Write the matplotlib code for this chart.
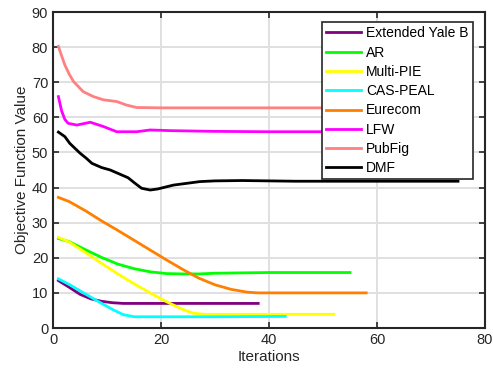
import matplotlib
matplotlib.use("Agg")
import matplotlib.pyplot as plt

# -------------------------------------------------------------
# Данные
# -------------------------------------------------------------
yale_x = [1, 3, 5, 7, 9, 11, 13, 15, 20, 25, 30, 35, 38]
yale_y = [13.5, 11.6, 9.6, 8.3, 7.6, 7.2, 7.0, 7.0, 7.0, 7.0, 7.0, 7.0, 7.0]

ar_x = [1, 3, 6, 9, 12, 15, 18, 21, 24, 27, 30, 35, 40, 45, 50, 55]
ar_y = [25.5, 24.6, 22.3, 20.1, 18.2, 16.9, 16.0, 15.5, 15.4, 15.4, 15.6, 15.7, 15.8, 15.8, 15.8, 15.8]

pie_x = [1, 3, 6, 9, 12, 15, 18, 21, 24, 26, 28, 30, 40, 52]
pie_y = [25.8, 24.5, 21.5, 18.4, 15.4, 12.6, 10.0, 7.5, 5.3, 4.2, 3.9, 3.9, 3.9, 3.9]

cas_x = [1, 3, 5, 7, 9, 11, 13, 15, 20, 30, 43]
cas_y = [14.0, 12.4, 10.6, 8.8, 7.0, 5.3, 3.8, 3.2, 3.2, 3.2, 3.3]

eur_x = [1, 3, 6, 9, 12, 15, 18, 21, 24, 27, 30, 33, 36, 38, 45, 58]
eur_y = [37.2, 36.0, 33.4, 30.5, 27.8, 25.0, 22.2, 19.4, 16.7, 14.2, 12.3, 11.0, 10.2, 10.0, 10.0, 10.0]

lfw_x = [1, 1.6, 2.2, 2.8, 4.4, 6.9, 9.3, 11.8, 15.5, 18, 22, 30, 40, 50, 60, 70]
lfw_y = [65.9, 61.8, 59.4, 58.3, 57.8, 58.6, 57.4, 55.9, 55.9, 56.4, 56.2, 56.0, 55.9, 55.9, 55.9, 55.9]

pub_x = [1, 1.6, 2.2, 3.0, 3.8, 5.6, 7.5, 9.3, 11.8, 13.6, 15.5, 20, 30, 40, 50, 60, 70]
pub_y = [80.2, 77.5, 74.9, 72.3, 70.2, 67.3, 65.9, 65.0, 64.5, 63.5, 62.8, 62.7, 62.7, 62.7, 62.7,
         62.7, 62.7]

dmf_x = [1, 2.2, 3.1, 5, 6.2, 7.2, 9, 10.6, 12.4, 13.9, 15.2, 16.4, 18, 19.4, 22.3, 27.2,
         30, 35, 45, 60, 75]
dmf_y = [55.8, 54.5, 52.6, 49.8, 48.3, 46.9, 45.7, 45.0, 43.8, 42.8, 41.2, 39.8, 39.3, 39.6,
         40.7, 41.7, 41.9, 42.0, 41.8, 41.8, 41.8]

series = [
    ("Extended Yale B", yale_x, yale_y, "#800080"),
    ("AR", ar_x, ar_y, "#00ff00"),
    ("Multi-PIE", pie_x, pie_y, "#ffff00"),
    ("CAS-PEAL", cas_x, cas_y, "#00ffff"),
    ("Eurecom", eur_x, eur_y, "#ff8000"),
    ("LFW", lfw_x, lfw_y, "#ff00ff"),
    ("PubFig", pub_x, pub_y, "#ff8080"),
    ("DMF", dmf_x, dmf_y, "#000000"),
]

# -------------------------------------------------------------
# Построение
# -------------------------------------------------------------
plt.rcParams["font.family"] = ["Liberation Sans", "DejaVu Sans"]

fig = plt.figure(figsize=(4.93, 3.82), dpi=100)
ax = fig.add_axes([53 / 493, 54 / 382, 432 / 493, 316 / 382])

for name, xs, ys, col in series:
    ax.plot(xs, ys, color=col, lw=2.0, label=name, solid_joinstyle="round")

ax.set_xlim(0, 80)
ax.set_ylim(0, 90)
ax.set_xticks(range(0, 81, 20))
ax.set_yticks(range(0, 91, 10))
ax.grid(True, color="#e0e0e0", lw=1.4)
ax.set_axisbelow(True)
ax.tick_params(direction="in", length=4, width=1.2, labelsize=10.5,
               top=True, right=True, colors="#262626")
for sp in ax.spines.values():
    sp.set_linewidth(1.5)
    sp.set_color("#262626")

ax.set_xlabel("Iterations", fontsize=11, color="#262626", labelpad=2)
ax.set_ylabel("Objective Function Value", fontsize=11, color="#262626", labelpad=2)

leg = ax.legend(loc="upper right", bbox_to_anchor=(0.972, 0.968), borderaxespad=0,
                fontsize=10, handlelength=2.5, labelspacing=0.38, handletextpad=0.4,
                borderpad=0.3, fancybox=False, framealpha=1)
leg.get_frame().set_edgecolor("#262626")
leg.get_frame().set_linewidth(1.2)

fig.savefig("out.png", dpi=100)
